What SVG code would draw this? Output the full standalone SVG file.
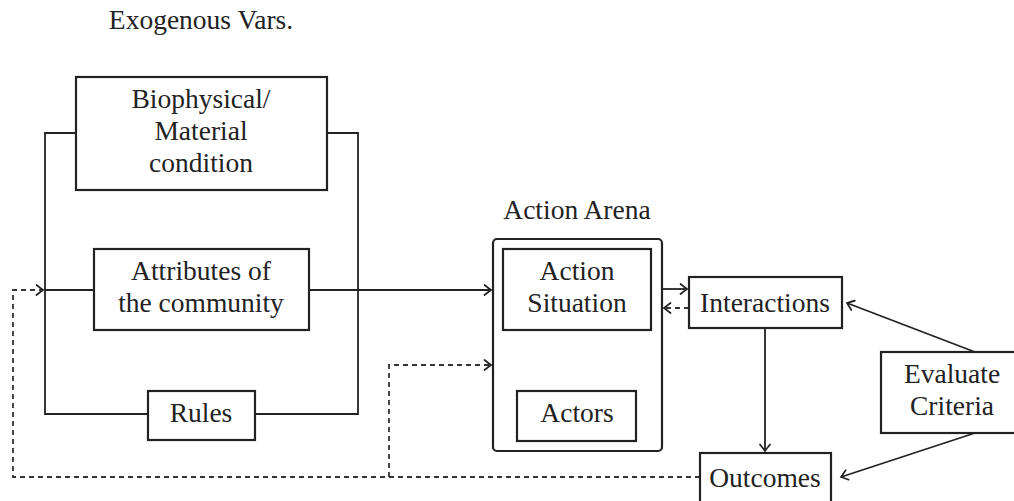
<svg xmlns="http://www.w3.org/2000/svg" width="1014" height="501" viewBox="0 0 1014 501">
<style>
.box{fill:#fff;stroke:#222;stroke-width:2.2}
.ln{fill:none;stroke:#222;stroke-width:1.8}
.ds{fill:none;stroke:#333;stroke-width:1.8;stroke-dasharray:5 4}
.t{font-size:27.5px;fill:#222;text-anchor:middle}
</style>
<defs>
<marker id="ar" viewBox="-8 -6 10 12" markerWidth="10" markerHeight="12" refX="0" refY="0" orient="auto" markerUnits="userSpaceOnUse">
<path d="M-6.5,-5 Q-1.5,-1 0,0 Q-1.5,1 -6.5,5" fill="none" stroke="#222" stroke-width="1.7" stroke-linecap="round"/>
</marker>
</defs>
<rect width="1014" height="501" fill="#fff"/>
<g font-family="'Liberation Serif', 'Times New Roman', 'DejaVu Serif', serif">
<text class="t" x="201" y="29">Exogenous Vars.</text>
<text class="t" x="577" y="219">Action Arena</text>
<g id="connectors">
<path class="ln" d="M76,133 H45 V414 H148"/>
<path class="ln" d="M327,133 H358 V414 H255"/>
<path class="ln" d="M45,290 H94"/>
<path class="ln" d="M309,290 H491" marker-end="url(#ar)"/>
<path class="ds" d="M700,477 H13 V290 H43" marker-end="url(#ar)"/>
<path class="ds" d="M389,477 V365 H491" marker-end="url(#ar)"/>
<path class="ln" d="M662,289 H687" marker-end="url(#ar)"/>
<path class="ds" d="M689,308 H664" marker-end="url(#ar)"/>
<path class="ln" d="M765,328 V451" marker-end="url(#ar)"/>
<path class="ln" d="M975,352 L847,303" marker-end="url(#ar)"/>
<path class="ln" d="M975,433 L841,477" marker-end="url(#ar)"/>
</g>
<g id="biophysical">
<rect class="box" x="76" y="77" width="251" height="113"/>
<text class="t" x="201" y="108">Biophysical/</text>
<text class="t" x="201" y="140">Material</text>
<text class="t" x="201" y="172">condition</text>
</g>
<g id="attributes">
<rect class="box" x="94" y="249" width="215" height="81"/>
<text class="t" x="201" y="280">Attributes of</text>
<text class="t" x="201" y="312">the community</text>
</g>
<g id="rules">
<rect class="box" x="148" y="391" width="107" height="49"/>
<text class="t" x="201" y="422">Rules</text>
</g>
<g id="action-arena">
<rect class="box" x="493" y="239" width="169" height="212" rx="4"/>
</g>
<g id="action-situation">
<rect class="box" x="503" y="249" width="148" height="81"/>
<text class="t" x="577" y="280">Action</text>
<text class="t" x="577" y="312">Situation</text>
</g>
<g id="actors">
<rect class="box" x="517" y="391" width="119" height="50"/>
<text class="t" x="577" y="422">Actors</text>
</g>
<g id="interactions">
<rect class="box" x="689" y="277" width="153" height="51"/>
<text class="t" x="765" y="312">Interactions</text>
</g>
<g id="outcomes">
<rect class="box" x="700" y="453" width="131" height="52"/>
<text class="t" x="765" y="487">Outcomes</text>
</g>
<g id="evaluate">
<rect class="box" x="881" y="352" width="144" height="81"/>
<text class="t" x="952" y="383">Evaluate</text>
<text class="t" x="952" y="415">Criteria</text>
</g>
</g>
</svg>
